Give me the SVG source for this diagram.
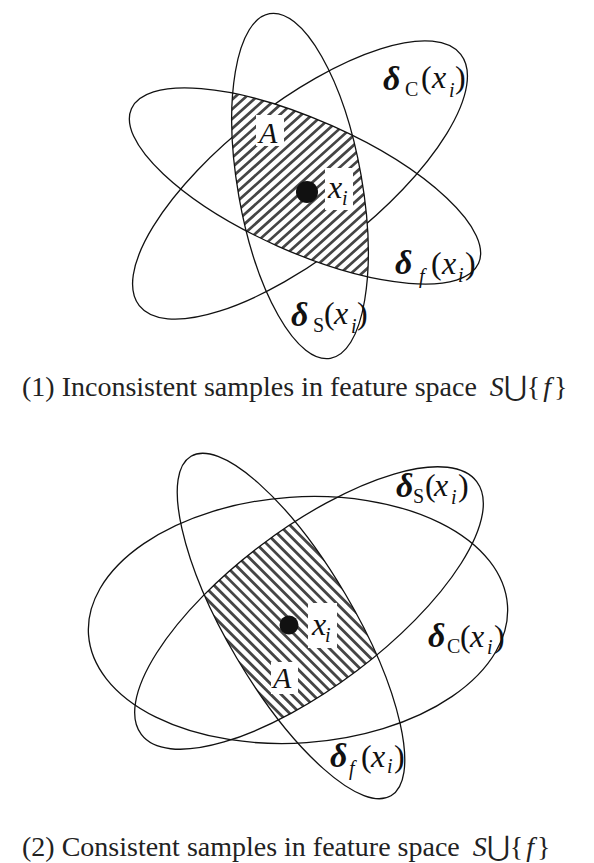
<svg xmlns="http://www.w3.org/2000/svg" width="594" height="863" viewBox="0 0 594 863">
<style>
.e{fill:none;stroke:#111;stroke-width:1.3}
.t{font-family:"Liberation Serif","Times New Roman",serif;font-size:32px;fill:#111}
.i{font-style:italic}
.d{font-style:italic;font-weight:bold;font-size:34px}
.s{font-size:20px}
.cap{font-family:"Liberation Serif","Times New Roman",serif;font-size:28px;fill:#222}
.bg{fill:#fff}
.hatch{fill:none;stroke:#444;stroke-width:420;stroke-linecap:butt}
</style>
<defs>
<clipPath id="cS1"><ellipse cx="300" cy="186" rx="62" ry="175" transform="rotate(-10 300 186)"/></clipPath>
<clipPath id="cf1"><ellipse cx="305" cy="186" rx="190" ry="66" transform="rotate(24 305 186)"/></clipPath>
<clipPath id="cS2"><ellipse cx="309" cy="608" rx="210" ry="79" transform="rotate(-37 309 608)"/></clipPath>
<clipPath id="cf2"><ellipse cx="291" cy="626" rx="63" ry="197" transform="rotate(-30.5 291 626)"/></clipPath>
<filter id="soft" x="-10%" y="-10%" width="120%" height="120%"><feGaussianBlur stdDeviation="0.6"/></filter>
</defs>

<!-- Top diagram -->
<g id="top-C">
<ellipse class="e" cx="300" cy="180" rx="204" ry="76" transform="rotate(-38 300 180)"/>
<text class="t" x="383" y="90"><tspan class="d">δ</tspan><tspan class="s" x="405" y="96">C</tspan><tspan x="421" y="88">(</tspan><tspan class="i" x="432" y="88">x</tspan><tspan class="s i" x="449" y="97">i</tspan><tspan x="455" y="88">)</tspan></text>
</g>
<g id="top-A" clip-path="url(#cS1)">
<g clip-path="url(#cf1)">
<rect x="200" y="60" width="200" height="260" fill="#fff"/>
<line class="hatch" x1="166" y1="41" x2="434" y2="339" stroke-dasharray="2.7 4.5" filter="url(#soft)"/>
</g>
</g>
<g id="top-S">
<ellipse class="e" cx="300" cy="186" rx="62" ry="175" transform="rotate(-10 300 186)"/>
<text class="t" x="291" y="326"><tspan class="d">δ</tspan><tspan class="s" x="313" y="332">S</tspan><tspan x="324" y="324">(</tspan><tspan class="i" x="334" y="324">x</tspan><tspan class="s i" x="351" y="333">i</tspan><tspan x="357" y="324">)</tspan></text>
</g>
<g id="top-f">
<ellipse class="e" cx="305" cy="186" rx="190" ry="66" transform="rotate(24 305 186)"/>
<text class="t" x="395" y="274"><tspan class="d">δ</tspan><tspan class="s i" x="419" y="283">f</tspan><tspan x="431" y="274">(</tspan><tspan class="i" x="442" y="274">x</tspan><tspan class="s i" x="458" y="282">i</tspan><tspan x="465" y="274">)</tspan></text>
</g>
<g id="top-labels">
<rect class="bg" x="256" y="115" width="28" height="31"/>
<text class="t i" x="259" y="143" style="font-size:30px">A</text>
<circle cx="307" cy="192" r="11" fill="#111"/>
<rect class="bg" x="325" y="168" width="28" height="42"/>
<text class="t" x="328" y="198"><tspan class="i">x</tspan><tspan class="s i" x="342" y="205">i</tspan></text>
</g>
<text class="cap" x="22" y="396">(1) Inconsistent samples in feature space <tspan class="i" dx="6">S</tspan><tspan>⋃</tspan><tspan>{</tspan><tspan class="i" dx="3">f</tspan><tspan dx="3">}</tspan></text>

<!-- Bottom diagram -->
<g id="bot-C">
<ellipse class="e" cx="298" cy="620" rx="210" ry="123" transform="rotate(-4 298 620)"/>
<text class="t" x="428" y="647"><tspan class="d">δ</tspan><tspan class="s" x="447" y="653">C</tspan><tspan x="460" y="647">(</tspan><tspan class="i" x="470" y="647">x</tspan><tspan class="s i" x="487" y="654">i</tspan><tspan x="494" y="647">)</tspan></text>
</g>
<g id="bot-A" clip-path="url(#cS2)">
<g clip-path="url(#cf2)">
<rect x="180" y="500" width="220" height="240" fill="#fff"/>
<line class="hatch" x1="150" y1="764" x2="432" y2="482" stroke-dasharray="2.8 4.6" filter="url(#soft)"/>
</g>
</g>
<g id="bot-S">
<ellipse class="e" cx="309" cy="608" rx="210" ry="79" transform="rotate(-37 309 608)"/>
<text class="t" x="396" y="497"><tspan class="d">δ</tspan><tspan class="s" x="413" y="503">S</tspan><tspan x="425" y="496">(</tspan><tspan class="i" x="434" y="496">x</tspan><tspan class="s i" x="451" y="504">i</tspan><tspan x="458" y="496">)</tspan></text>
</g>
<g id="bot-f">
<ellipse class="e" cx="291" cy="626" rx="63" ry="197" transform="rotate(-30.5 291 626)"/>
<text class="t" x="330" y="767"><tspan class="d">δ</tspan><tspan class="s i" x="349" y="775">f</tspan><tspan x="361" y="767">(</tspan><tspan class="i" x="371" y="767">x</tspan><tspan class="s i" x="387" y="773">i</tspan><tspan x="394" y="767">)</tspan></text>
</g>
<g id="bot-labels">
<rect class="bg" x="271" y="662" width="27" height="32"/>
<text class="t i" x="273" y="688" style="font-size:30px">A</text>
<circle cx="289" cy="625" r="9.5" fill="#111"/>
<rect class="bg" x="308" y="603" width="29" height="45"/>
<text class="t" x="312" y="635"><tspan class="i">x</tspan><tspan class="s i" x="325" y="642">i</tspan></text>
</g>
<text class="cap" x="22" y="856">(2) Consistent samples in feature space <tspan class="i" dx="6">S</tspan><tspan>⋃</tspan><tspan>{</tspan><tspan class="i" dx="3">f</tspan><tspan dx="3">}</tspan></text>
</svg>
